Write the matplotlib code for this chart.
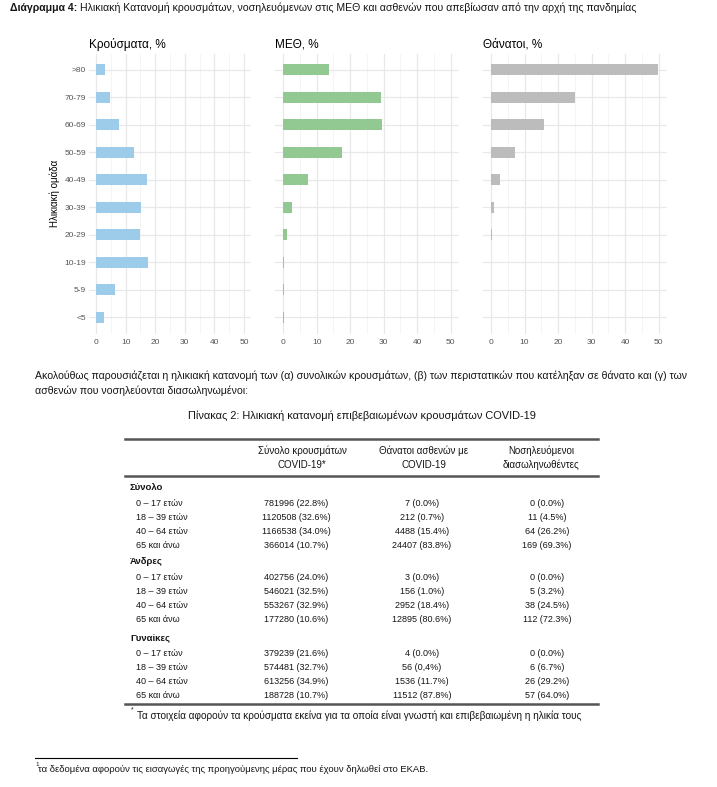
import matplotlib
matplotlib.use("Agg")
import matplotlib.pyplot as plt
import numpy as np

# --- data ---
age_groups = ["<5", "5-9", "10-19", "20-29", "30-39", "40-49", "50-59", "60-69", "70-79", ">80"]
cases_pct = [2.7, 6.4, 17.6, 14.9, 15.1, 17.1, 12.9, 7.8, 4.7, 3.0]
icu_pct = [0.2, 0.1, 0.3, 1.0, 2.5, 7.3, 17.4, 29.4, 29.1, 13.6]
deaths_pct = [0.1, 0.0, 0.1, 0.2, 0.8, 2.7, 7.1, 15.8, 25.0, 49.7]
panel_titles = ["Κρούσματα, %", "ΜΕΘ, %", "Θάνατοι, %"]
panel_colors = ["#9ccce9", "#92c992", "#bcbcbc"]
x_ticks = [0, 10, 20, 30, 40, 50]

col_headers = [("Σύνολο κρουσμάτων", "COVID-19*"),
               ("Θάνατοι ασθενών με", "COVID-19"),
               ("Νοσηλευόμενοι", "διασωληνωθέντες")]
groups = ["Σύνολο", "Άνδρες", "Γυναίκες"]
age_rows = ["0 – 17 ετών", "18 – 39 ετών", "40 – 64 ετών", "65 και άνω"]
tbl_cases = [["781996 (22.8%)", "1120508 (32.6%)", "1166538 (34.0%)", "366014 (10.7%)"],
             ["402756 (24.0%)", "546021 (32.5%)", "553267 (32.9%)", "177280 (10.6%)"],
             ["379239 (21.6%)", "574481 (32.7%)", "613256 (34.9%)", "188728 (10.7%)"]]
tbl_deaths = [["7 (0.0%)", "212 (0.7%)", "4488 (15.4%)", "24407 (83.8%)"],
              ["3 (0.0%)", "156 (1.0%)", "2952 (18.4%)", "12895 (80.6%)"],
              ["4 (0.0%)", "56 (0,4%)", "1536 (11.7%)", "11512 (87.8%)"]]
tbl_intub = [["0 (0.0%)", "11 (4.5%)", "64 (26.2%)", "169 (69.3%)"],
             ["0 (0.0%)", "5 (3.2%)", "38 (24.5%)", "112 (72.3%)"],
             ["0 (0.0%)", "6 (6.7%)", "26 (29.2%)", "57 (64.0%)"]]

W, H = 717, 787
SANS = ["Liberation Sans", "DejaVu Sans"]
TXT = "#151515"


def fx(x):
    return x / W


def fy(y):
    return 1 - y / H


fig = plt.figure(figsize=(W / 100, H / 100), dpi=100)
fig.patch.set_facecolor("white")

# --- header line ---
t1 = fig.text(fx(10), fy(8), "Διάγραμμα 4:", family=SANS, fontsize=7.6,
              weight="bold", va="center", ha="left", color=TXT)
fig.canvas.draw()
bb = t1.get_window_extent()
fig.text(bb.x1 / W + fx(3), fy(8),
         "Ηλικιακή Κατανομή κρουσμάτων, νοσηλευόμενων στις ΜΕΘ και ασθενών που απεβίωσαν από την αρχή της πανδημίας",
         family=SANS, fontsize=7.6, va="center", ha="left", color=TXT)

# --- three bar panels ---
panels = [(88.6, 162.8, cases_pct), (274.9, 184.1, icu_pct), (482.6, 184.5, deaths_pct)]
top, bottom = 53.5, 333.5
pos = np.arange(1, len(age_groups) + 1)
for i, (left, width, vals) in enumerate(panels):
    ax = fig.add_axes([fx(left), fy(bottom), width / W, (bottom - top) / H])
    ax.barh(pos, vals, height=0.4, color=panel_colors[i], zorder=3)
    ax.set_xlim(-2.5, 52.5)
    ax.set_ylim(0.4, 10.6)
    ax.set_xticks(x_ticks)
    ax.set_xticks([5, 15, 25, 35, 45], minor=True)
    ax.set_yticks(pos)
    ax.grid(which="major", color="#e8e8e8", lw=0.9, zorder=0)
    ax.grid(which="minor", axis="x", color="#f2f2f2", lw=0.6, zorder=0)
    for s in ax.spines.values():
        s.set_visible(False)
    ax.tick_params(which="both", length=0, labelsize=6, labelcolor="#555555")
    ax.tick_params(axis="x", pad=4)
    ax.tick_params(axis="y", pad=2)
    for lab in ax.get_xticklabels():
        lab.set_family(SANS)
    if i == 0:
        ax.set_yticklabels(age_groups, family=SANS)
        ax.set_ylabel("Ηλικιακή ομάδα", family=SANS, fontsize=7, labelpad=3)
    else:
        ax.set_yticklabels([])
    ax.set_title(panel_titles[i], loc="left", family=SANS, fontsize=8.5, pad=4)

# --- paragraph ---
fig.text(fx(35), fy(376),
         "Ακολούθως παρουσιάζεται η ηλικιακή κατανομή των (α) συνολικών κρουσμάτων, (β) των περιστατικών που κατέληξαν σε θάνατο και (γ) των",
         family=SANS, fontsize=7.6, va="center", ha="left", color=TXT)
fig.text(fx(35), fy(391), "ασθενών που νοσηλεύονται διασωληνωμένοι:",
         family=SANS, fontsize=7.6, va="center", ha="left", color=TXT)
fig.text(fx(362), fy(416), "Πίνακας 2: Ηλικιακή κατανομή επιβεβαιωμένων κρουσμάτων COVID-19",
         family=SANS, fontsize=7.9, va="center", ha="center", color=TXT)

# --- table ---
rule_x0, rule_x1 = fx(125), fx(598)
for y in (439, 476, 704):
    fig.add_artist(plt.Line2D([rule_x0, rule_x1], [fy(y), fy(y)], color="#555555", lw=1.8))

head_x = [302, 424, 541]
val_x = [296, 422, 547]
for cx, (l1, l2) in zip(head_x, col_headers):
    fig.text(fx(cx), fy(451), l1, family=SANS, fontsize=7, ha="center", va="center", color=TXT)
    fig.text(fx(cx), fy(465), l2, family=SANS, fontsize=7, ha="center", va="center", color=TXT)

group_y = [488, 562, 638]
row_step = 14
for g, gy in enumerate(group_y):
    fig.text(fx(130), fy(gy), groups[g], family=SANS, fontsize=6.8, weight="bold",
             ha="left", va="center", color=TXT)
    for r, lab in enumerate(age_rows):
        ry = gy + 1 + row_step * (r + 1)
        fig.text(fx(136), fy(ry), lab, family=SANS, fontsize=6.5, ha="left", va="center", color=TXT)
        for cx, col in zip(val_x, (tbl_cases, tbl_deaths, tbl_intub)):
            fig.text(fx(cx), fy(ry), col[g][r], family=SANS, fontsize=6.5,
                     ha="center", va="center", color=TXT)

fig.text(fx(131), fy(710), "*", family=SANS, fontsize=5, ha="left", va="center", color=TXT)
fig.text(fx(137), fy(716),
         "Τα στοιχεία αφορούν τα κρούσματα εκείνα για τα οποία είναι γνωστή και επιβεβαιωμένη η ηλικία τους",
         family=SANS, fontsize=7.2, ha="left", va="center", color=TXT)

# --- page footnote ---
fig.add_artist(plt.Line2D([fx(35), fx(297)], [fy(758), fy(758)], color="black", lw=0.8))
fig.text(fx(35), fy(765), "1", family=SANS, fontsize=4.5, ha="left", va="center", color=TXT)
fig.text(fx(38), fy(769),
         "τα δεδομένα αφορούν τις εισαγωγές της προηγούμενης μέρας που έχουν δηλωθεί στο ΕΚΑΒ.",
         family=SANS, fontsize=6.8, ha="left", va="center", color=TXT)

fig.savefig("out.png", dpi=100, facecolor="white")
